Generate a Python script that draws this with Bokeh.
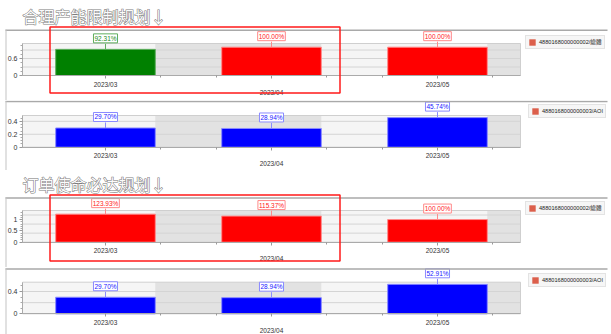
from bokeh.plotting import figure
from bokeh.models import (Range1d, LinearAxis, FixedTicker, CustomJSTickFormatter,
                          BoxAnnotation, Label, Legend, LegendItem, Arrow)
from bokeh.layouts import column
from bokeh.embed import file_html
from bokeh.resources import INLINE

# ---------------- data ----------------
categories = ["2023/03", "2023/04", "2023/05"]
headings = ["合理产能限制规划↓", "订单使命必达规划↓"]

cap_total = [0.9231, 1.0000, 1.0000]
cap_total_colors = ["#008000", "#ff0000", "#ff0000"]
cap_aoi = [0.2970, 0.2894, 0.4574]
ord_total = [1.2393, 1.1537, 1.0000]
ord_total_colors = ["#ff0000", "#ff0000", "#ff0000"]
ord_aoi = [0.2970, 0.2894, 0.5291]
aoi_colors = ["#0000ff", "#0000ff", "#0000ff"]

legend_total = "4880168000000002/總體"
legend_aoi = "4880168000000003/AOI"

LABEL_BORDER = {"#008000": "#5fae5f", "#ff0000": "#ff8a8a", "#0000ff": "#8a8aff"}
LABEL_TEXT = {"#008000": "#1a8a1a", "#ff0000": "#ff2020", "#0000ff": "#2020ff"}
FONT = "'Liberation Sans', 'Noto Sans CJK TC', sans-serif"

W = 611
PLOT_L, PLOT_R = 22, 520   # pixel extent of plot area


def make_panel(height, yt, yb, vals, colors, ymax, yticks, yminor, ygrid,
               legend_text, legend_box, border_top, heading=None, heading_mid=None,
               redbox=None):
    n = len(categories)
    ppx = (PLOT_R - PLOT_L) / n
    ppy = (yb - yt) / ymax

    def X(px):
        return (px - PLOT_L) / ppx

    def Y(py):
        return (yb - py) / ppy

    p = figure(width=W, height=height, title=None,
               x_range=Range1d(X(0), X(W)), y_range=Range1d(Y(height), Y(0)),
               x_axis_type=None, y_axis_type=None,
               output_backend="svg", toolbar_location=None,
               min_border=0, min_border_left=0, min_border_right=0,
               min_border_top=0, min_border_bottom=0)
    p.background_fill_color = "white"
    p.border_fill_color = "white"
    p.outline_line_color = None

    xs = [i + 0.5 for i in range(n)]

    # plot area and alternating shaded bands
    p.add_layout(BoxAnnotation(left=0, right=n, bottom=0, top=ymax, fill_color="#f5f5f5",
                               fill_alpha=1, line_color=None, level="image"))
    for l, r in [(0.8, 1.8), (2.8, 3.0)]:
        p.add_layout(BoxAnnotation(left=l, right=r, bottom=0, top=ymax, fill_color="#e2e2e2",
                                   fill_alpha=1, line_color=None, level="image"))
    p.add_layout(BoxAnnotation(left=0, right=n, bottom=0, top=ymax, fill_color=None,
                               line_color="#cfcfcf", line_alpha=1, line_width=1,
                               level="underlay"))
    # horizontal grid lines
    p.segment(x0=[0] * len(ygrid), x1=[n] * len(ygrid), y0=ygrid, y1=ygrid,
              line_color="#d4d4d4", line_width=1, level="underlay")

    # y axis
    yax = LinearAxis(ticker=FixedTicker(ticks=yticks, minor_ticks=yminor),
                     fixed_location=0, bounds=(0, ymax))
    yax.major_label_text_font_size = "7px"
    yax.major_label_text_color = "#333333"
    yax.major_label_text_font = FONT
    yax.axis_line_color = "#aaaaaa"
    yax.major_tick_line_color = "#999999"
    yax.minor_tick_line_color = "#aaaaaa"
    yax.major_tick_in = 0
    yax.major_tick_out = 3
    yax.minor_tick_in = 0
    yax.minor_tick_out = 2
    yax.major_label_standoff = 2
    p.add_layout(yax, "left")

    # x axes (staggered labels)
    xminor = [0.83, 1.17, 1.83, 2.17, 2.83]
    ax1 = LinearAxis(ticker=FixedTicker(ticks=xs, minor_ticks=xminor), fixed_location=0,
                     bounds=(0, n),
                     formatter=CustomJSTickFormatter(args=dict(cats=categories),
                         code="const i = Math.round(tick - 0.5); return (i % 2 == 0) ? cats[i] : '';"))
    ax2 = LinearAxis(ticker=FixedTicker(ticks=xs), fixed_location=0, bounds=(0, n),
                     formatter=CustomJSTickFormatter(args=dict(cats=categories),
                         code="const i = Math.round(tick - 0.5); return (i % 2 == 1) ? cats[i] : '';"))
    for ax in (ax1, ax2):
        ax.major_label_text_font_size = "6.5px"
        ax.major_label_text_color = "#333333"
        ax.major_label_text_font = FONT
    ax1.axis_line_color = "#aaaaaa"
    ax1.major_tick_line_color = "#999999"
    ax1.minor_tick_line_color = "#999999"
    ax1.major_tick_in = 0
    ax1.major_tick_out = 3
    ax1.minor_tick_in = 0
    ax1.minor_tick_out = 2
    ax1.major_label_standoff = 2
    ax2.axis_line_color = None
    ax2.major_tick_line_color = None
    ax2.minor_tick_line_color = None
    ax2.major_tick_in = 0
    ax2.major_tick_out = 0
    ax2.major_label_standoff = 13
    p.add_layout(ax1, "below")
    p.add_layout(ax2, "below")

    # bars
    edge = [LABEL_BORDER[c] for c in colors]
    p.vbar(x=xs, top=vals, width=0.6, fill_color=colors, line_color=edge, line_width=1)

    # data labels with connectors
    gap = 5.5 / ppy
    for x, v, c in zip(xs, vals, colors):
        p.add_layout(Arrow(end=None, x_start=x, y_start=v, x_end=x, y_end=v + gap,
                           line_color=LABEL_BORDER[c], line_width=1))
        p.add_layout(Label(x=x, y=v, y_offset=6.5, text=f"{v * 100:.2f}%",
                           text_align="center", text_baseline="bottom",
                           text_font_size="6.5px", text_font=FONT,
                           text_color=LABEL_TEXT[c],
                           border_line_color=LABEL_BORDER[c], border_line_width=1,
                           background_fill_color="white", padding=1))

    # legend (swatch colour differs from the bars)
    nan = float("nan")
    dummy = p.quad(left=[nan], right=[nan], top=[nan], bottom=[nan],
                   fill_color="#dc5f4b", line_color=None)
    lx, ly_top, ly_bottom = legend_box
    legend = Legend(items=[LegendItem(label=legend_text, renderers=[dummy])],
                    location=(lx, height - ly_bottom),
                    glyph_width=8, glyph_height=8, label_height=8, label_width=10,
                    label_standoff=3, padding=2, spacing=0, margin=0,
                    label_text_font_size="5.6px", label_text_font=FONT,
                    label_text_color="#222222",
                    border_line_color="#d0d0d0", background_fill_color="#f6f6f6",
                    background_fill_alpha=1)
    p.add_layout(legend, "center")

    # panel border lines
    p.add_layout(BoxAnnotation(left=X(5), right=X(607), top=Y(border_top),
                               bottom=Y(border_top + 1.5),
                               fill_color="#a9a9a9", fill_alpha=1, line_color=None))
    p.add_layout(BoxAnnotation(left=X(5), right=X(6), top=Y(border_top), bottom=Y(height),
                               fill_color="#c4c4c4", fill_alpha=1, line_color=None))

    if heading is not None:
        # outlined "word-art" heading: grey outline underneath, white fill on top
        p.add_layout(Label(x=X(22), y=Y(heading_mid), text=heading,
                           text_font="Noto Sans CJK SC",
                           text_font_size="16px", text_color="#7c7c7c",
                           text_outline_color="#7c7c7c", text_baseline="middle"))
        p.add_layout(Label(x=X(22), y=Y(heading_mid), text=heading,
                           text_font="Noto Sans CJK SC",
                           text_font_size="16px", text_color="#fbfbfb",
                           text_baseline="middle"))
    if redbox is not None:
        l, r, t, b = redbox
        p.add_layout(BoxAnnotation(left=X(l), right=X(r), top=Y(t), bottom=Y(b),
                                   fill_color=None, fill_alpha=0, line_color="#ff1a1a",
                                   line_alpha=1, line_width=1.5, level="overlay"))
    return p


p1 = make_panel(100, 43, 75, cap_total, cap_total_colors, 1.13, [0, 0.6],
                [0.15, 0.3, 0.45, 0.75, 0.9, 1.05], [0.3, 0.6, 0.9],
                legend_total, (525, 37, 48.5), 29, heading=headings[0], heading_mid=15.5,
                redbox=(49.5, 339.5, 26.5, 92.5))
p2 = make_panel(70, 15, 46.7, cap_aoi, aoi_colors, 0.49, [0, 0.2, 0.4],
                [0.05, 0.1, 0.15, 0.25, 0.3, 0.35, 0.45], [0.2, 0.4],
                legend_aoi, (528, 7.3, 18.3), 0.2)
p3 = make_panel(97, 40, 71.7, ord_total, ord_total_colors, 1.40, [0, 0.5, 1],
                [0.1, 0.2, 0.3, 0.4, 0.6, 0.7, 0.8, 0.9, 1.1, 1.2, 1.3], [0.4, 0.8, 1.2],
                legend_total, (525, 33, 45), 26.7, heading=headings[1], heading_mid=13.5,
                redbox=(49.5, 339.5, 24.5, 90.5))
p4 = make_panel(67, 14.7, 46.3, ord_aoi, aoi_colors, 0.567, [0, 0.4],
                [0.1, 0.2, 0.3, 0.5], [0.2, 0.4],
                legend_aoi, (528, 7, 20), 0.7)

layout = column(p1, p2, p3, p4, spacing=0)
open("out.html", "w").write(file_html(layout, INLINE))
